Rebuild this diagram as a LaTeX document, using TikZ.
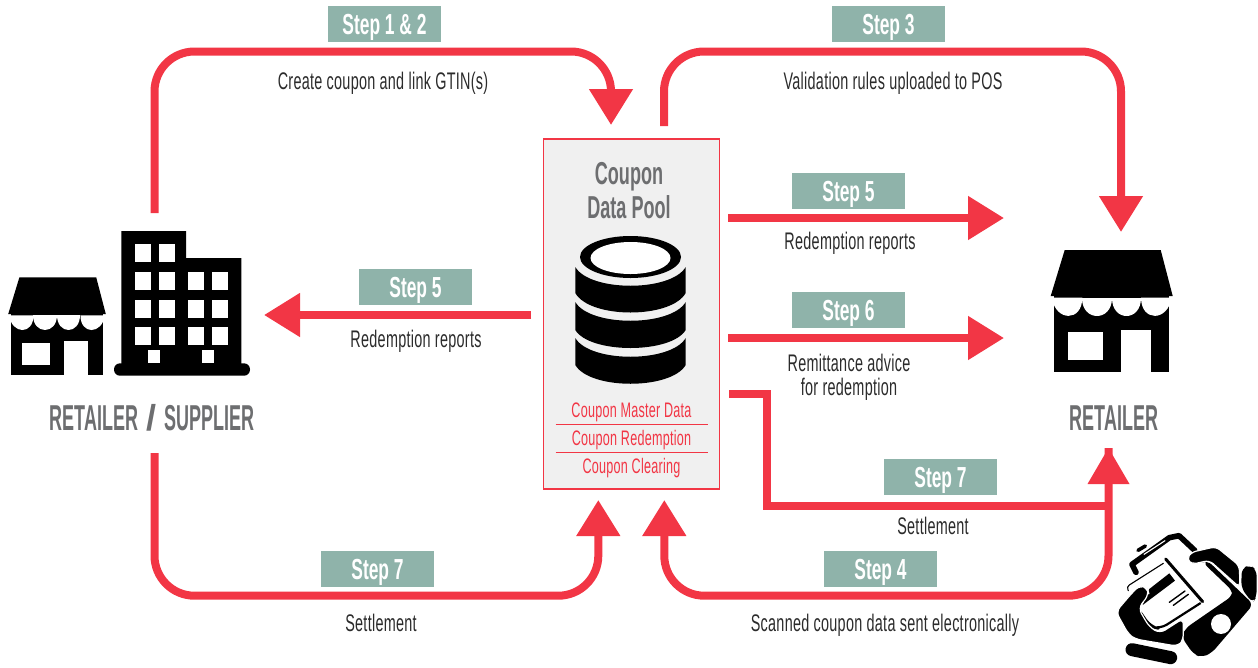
\documentclass[tikz,border=0pt]{standalone}
\usepackage{fontspec}
\usetikzlibrary{arrows.meta}
\newfontfamily\condf[FakeStretch=0.6,LetterSpace=1.2]{Liberation Sans}
\newfontfamily\conds[FakeStretch=0.6]{Liberation Sans}
\newfontfamily\condt[FakeStretch=0.57]{Liberation Sans}
\newfontfamily\condn[FakeStretch=0.5]{Liberation Sans}
\newfontfamily\plainf{Liberation Sans}
\definecolor{cred}{HTML}{F23645}
\definecolor{cstep}{HTML}{8FB3AA}
\definecolor{cgray}{HTML}{6D6E70}
\definecolor{ctext}{HTML}{2B2B2B}
\definecolor{cpool}{HTML}{F0F0F0}
\tikzset{
 flow/.style={draw=cred,line width=8pt,-{Triangle[length=36pt,width=42pt]}},
 flowr/.style={flow,rounded corners=40pt},
 plainflow/.style={draw=cred,line width=8pt,line join=miter},
 stepbox/.style={fill=cstep,minimum width=113pt,minimum height=36pt,inner sep=0pt,text=white,text height=21pt,text depth=0pt,font=\conds\bfseries\fontsize{29}{30}\selectfont},
 lab/.style={inner sep=0pt,text=ctext,text height=17.5pt,text depth=0pt,align=center,font=\condf\fontsize{24}{24}\selectfont},
 pooltitle/.style={inner sep=0pt,text=cgray,text height=22.7pt,text depth=0pt,font=\condt\bfseries\fontsize{31.7}{32}\selectfont},
 actor/.style={inner sep=0pt,text=cgray,text height=25.7pt,text depth=0pt,font=\condn\bfseries\fontsize{36}{36}\selectfont},
 poolitem/.style={inner sep=0pt,text=cred,text height=15pt,text depth=0pt,font=\condf\fontsize{21}{21}\selectfont},
}
\newcommand{\storeicon}{%
 \fill[black] (-61,46) -- (-47,0) -- (49,0) -- (61,46) -- cycle;
 \fill[black] (-57.4,46) rectangle (57,122);
 \fill[white] (-60,47.5) .. controls (-56,72) and (-29.4,72) .. (-29.4,47.5) -- cycle;
 \fill[white] (-29.4,47.5) .. controls (-29.4,72) and (0,72) .. (0,47.5) -- cycle;
 \fill[white] (0,47.5) .. controls (0,72) and (29.3,72) .. (29.3,47.5) -- cycle;
 \fill[white] (29.3,47.5) .. controls (29.3,72) and (56,72) .. (60,47.5) -- cycle;
 \fill[white] (-43.7,82) rectangle (-8.7,110);
 \fill[white] (9.3,80) rectangle (39.3,122);
}
\begin{document}
\begin{tikzpicture}[x=1pt,y=-1pt]
\useasboundingbox (0,0) rectangle (1258,667);
% pool
\node[draw=cred,line width=1.2pt,fill=cpool,minimum width=176pt,minimum height=350pt,inner sep=0pt] (pool) at (631.4,314) {};
\node[pooltitle] (t1) at (629,173) {Coupon};
\node[pooltitle] (t2) at (629,207) {Data Pool};
% database
\fill[black] (630.5,257) ellipse [x radius=50.5,y radius=21];
\fill[white] (630.5,258) ellipse [x radius=40,y radius=16];
\fill[black] (575.3,267) .. controls (590,292) and (671,292) .. (685.7,267) -- (685.7,293) .. controls (671,319) and (590,319) .. (575.3,293) -- cycle;
\fill[black] (575.3,302) .. controls (590,327) and (671,327) .. (685.7,302) -- (685.7,330) .. controls (671,354) and (590,354) .. (575.3,330) -- cycle;
\fill[black] (575.3,338) .. controls (590,363) and (671,363) .. (685.7,338) -- (685.7,365) .. controls (671,390) and (590,390) .. (575.3,365) -- cycle;
\node[poolitem] (p1) at (631.5,410) {Coupon Master Data};
\node[poolitem] (p2) at (631.5,438) {Coupon Redemption};
\node[poolitem] (p3) at (631.5,466) {Coupon Clearing};
\coordinate (r1a) at (555.5,424.7); \coordinate (r1b) at (707.5,424.7);
\coordinate (r2a) at (555.5,452.5); \coordinate (r2b) at (707.5,452.5);
\draw[cred,line width=1pt] (r1a) -- (r1b);
\draw[cred,line width=1pt] (r2a) -- (r2b);
% icons
\begin{scope}[shift={(1111.7,250)}] \storeicon \end{scope}
\begin{scope}[shift={(57,277.3)},scale=0.8] \storeicon \end{scope}
% building
\fill[black] (121.3,370) -- (121.3,231) -- (186,231) -- (186,258) -- (241.3,258) -- (241.3,370) -- cycle;
\fill[black,rounded corners=6pt] (114,363.3) rectangle (250,375.7);
\foreach \cx in {135,159}{\fill[white] (\cx,244) rectangle ++(16,18);}
\foreach \cy in {272,300,327}{\foreach \cx in {135,159,188,212}{\fill[white] (\cx,\cy) rectangle ++(16,18);}}
\fill[white] (148,350) rectangle (160,363.3);
\fill[white] (202,350) rectangle (214,363.3);
% actor labels
\node[actor] (sup) at (152,418) {RETAILER\hspace{3pt} {\plainf\bfseries /} \hspace{2.5pt}SUPPLIER};
\node[actor] (ret) at (1113.7,418) {RETAILER};
% connectors
\coordinate (a1) at (154.5,213); \coordinate (a2) at (154.5,51.5); \coordinate (a3) at (611,51.5); \coordinate (a4) at (611,125);
\draw[flowr] (a1) -- (a2) -- (a3) -- (a4);
\coordinate (b1) at (664,126); \coordinate (b2) at (664,51.5); \coordinate (b3) at (1121,51.5); \coordinate (b4) at (1121,232);
\draw[flowr] (b1) -- (b2) -- (b3) -- (b4);
\coordinate (c1) at (728,218); \coordinate (c2) at (1004,218);
\draw[flow] (c1) -- (c2);
\coordinate (d1) at (728,338); \coordinate (d2) at (1004,338);
\draw[flow] (d1) -- (d2);
\coordinate (e1) at (531,315); \coordinate (e2) at (264,315);
\draw[flow] (e1) -- (e2);
\coordinate (f1) at (729,394); \coordinate (f2) at (767,394); \coordinate (f3) at (767,505.5); \coordinate (f4) at (1108.5,505.5);
\draw[plainflow] (f1) -- (f2) -- (f3) -- (f4);
\coordinate (g1) at (1108.5,448); \coordinate (g2) at (1108.5,595.7); \coordinate (g3) at (664.3,595.7); \coordinate (g4) at (664.3,500);
\draw[flowr] (g1) -- (g2) -- (g3) -- (g4);
\coordinate (h1) at (154.5,453); \coordinate (h2) at (154.5,595.7); \coordinate (h3) at (598.3,595.7); \coordinate (h4) at (598.3,500);
\draw[flowr] (h1) -- (h2) -- (h3) -- (h4);
\fill[cred] (1087.5,484) -- (1108.5,448) -- (1129.5,484) -- cycle;
% step boxes
\node[stepbox] (s12) at (384.5,24) {Step 1 \& 2};
\node[stepbox] (s3) at (888.5,24) {Step 3};
\node[stepbox] (s5r) at (848.5,191) {Step 5};
\node[stepbox] (s6) at (848.5,310) {Step 6};
\node[stepbox] (s5l) at (415.5,287) {Step 5};
\node[stepbox] (s7r) at (940.5,477) {Step 7};
\node[stepbox] (s4) at (880.5,569) {Step 4};
\node[stepbox] (s7l) at (377.5,569) {Step 7};
% labels
\node[lab] (l1) at (383,81) {Create coupon and link GTIN(s)};
\node[lab] (l2) at (893,81) {Validation rules uploaded to POS};
\node[lab] (l3) at (850,241) {Redemption reports};
\node[lab] (l4) at (849,362.5) {Remittance advice};
\node[lab] (l4b) at (849,387) {for redemption};
\node[lab] (l5) at (416,339) {Redemption reports};
\node[lab] (l6) at (933,526) {Settlement};
\node[lab] (l7) at (885,623) {Scanned coupon data sent electronically};
\node[lab] (l8) at (381,623) {Settlement};
% scanning icon (coordinates of a 3x crop)
\begin{scope}[shift={(1110,525)},scale=0.3333]
\draw[black,line width=3.6pt,line cap=round] (84,76) -- (106,63);
\draw[black,line width=5.6pt,line join=round,line cap=round] (78,142) -- (66,118) -- (178,38) -- (207,32) -- (254,76);
\draw[white,line width=1.1pt,line cap=round] (102,88) -- (165,47);
\fill[black,rounded corners=6pt] (292,106) -- (430,238) -- (305,384) -- (275,397) -- (250,387) -- (215,336) -- (226,310) -- (368,212) -- (368,198) -- (278,112) -- cycle;
\fill[white] (333,297) circle [radius=30];
\fill[black,rounded corners=5pt,draw=white,line width=1.2pt] (230,103) -- (243,82) -- (318,65) -- (388,122) -- (390,188) -- (298,106) -- (245,118) -- cycle;
\fill[black,rounded corners=6pt] (395,130) -- (420,120) -- (440,135) -- (440,215) -- (428,234) -- (394,190) -- cycle;
\draw[black,line width=1.1pt,line cap=round,rounded corners=3pt] (55,197) -- (50,185) -- (160,115);
\draw[black,line width=3pt,line cap=round] (167,102) -- (278,230);
\fill[black] (118,192) -- (178,145) -- (195,167) -- (98,240) -- cycle;
\draw[black,line width=1.4pt,line cap=round] (178,232) -- (225,198);
\draw[black,line width=1.4pt,line cap=round] (190,241) -- (235,208);
\draw[black,line width=2.2pt,line join=round,rounded corners=8pt] (92,262) -- (122,305) -- (150,312) -- (272,234);
\fill[black,rounded corners=6pt,draw=white,line width=1.2pt] (18,260) -- (65,205) -- (90,180) -- (112,190) -- (117,208) -- (85,250) -- (118,306) -- (150,325) -- (220,280) -- (220,345) -- (205,364) -- (75,342) -- (55,327) -- cycle;
\draw[black,line width=13pt,line cap=round] (66,374) -- (182,398);
\end{scope}
\end{tikzpicture}
\end{document}
